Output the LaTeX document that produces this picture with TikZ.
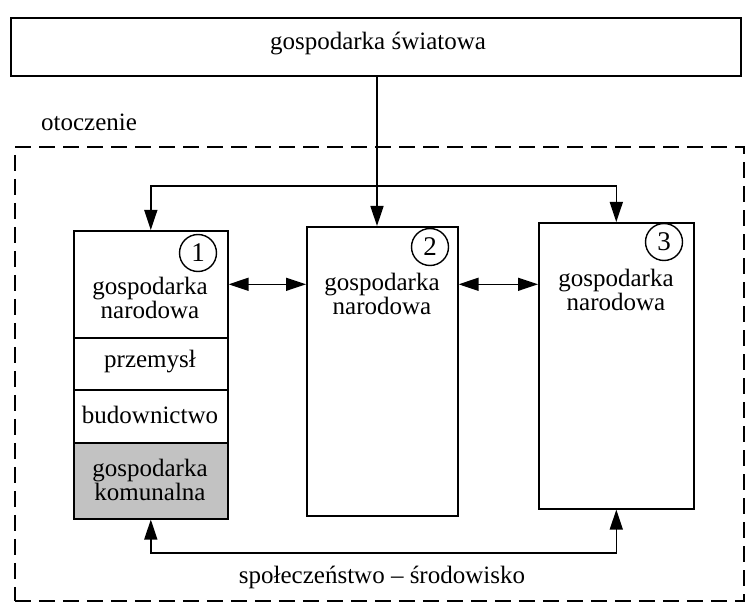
\documentclass[tikz,border=0pt]{standalone}
\usepackage{fontspec}
\setmainfont{Liberation Serif}
\usetikzlibrary{arrows.meta}

\begin{document}
\begin{tikzpicture}[x=1pt,y=-1pt,
  txt/.style={font=\fontsize{25}{24}\selectfont, inner sep=0pt},
  frame/.style={draw, line width=1.6pt, inner sep=0pt},
  cell/.style={frame, minimum width=154pt, anchor=north west},
  num/.style={draw, circle, line width=1.4pt, minimum size=37pt, inner sep=0pt,
    font=\fontsize{27}{27}\selectfont},
  link/.style={line width=1.5pt},
  tip/.style={-{Triangle[length=20pt,width=13pt]}},
  tips/.style={{Triangle[length=20pt,width=13pt]}-{Triangle[length=20pt,width=13pt]}},
  envline/.style={draw, line width=1.7pt, dash pattern=on 16pt off 8pt, inner sep=0pt}]

\useasboundingbox (0,0) rectangle (747,604);

% world economy on top
\node[frame, anchor=north west, minimum width=730pt, minimum height=58pt]
  (world) at (10,17) {};
\node[txt] (worldtxt) at (378,44) {gospodarka światowa};

% surroundings (dashed frame)
\node[envline, anchor=north west, minimum width=729pt, minimum height=454pt]
  (env) at (14,146) {};
\node[txt] (envtxt) at (89,122) {otoczenie};

% national economy 1 with its sectors
\node[cell, minimum height=107pt] (b1) at (73,230) {};
\node[cell, minimum height=52pt] (b1a) at (73,337) {};
\node[cell, minimum height=53pt] (b1b) at (73,389) {};
\node[cell, minimum height=76pt, fill=black!24] (b1c) at (73,442) {};
\node[txt, align=center] (b1t) at (150,298) {gospodarka\\narodowa};
\node[txt] (b1at) at (150,362) {przemysł};
\node[txt] (b1bt) at (150,415) {budownictwo};
\node[txt, align=center] (b1ct) at (150,480) {gospodarka\\komunalna};
\node[num] (n1) at (198,253) {1};

% national economy 2
\node[cell, minimum width=151pt, minimum height=289pt] (b2) at (306,226) {};
\node[txt, align=center] (b2t) at (382,294) {gospodarka\\narodowa};
\node[num] (n2) at (430,247) {2};

% national economy 3
\node[cell, minimum width=155pt, minimum height=286pt] (b3) at (538,222) {};
\node[txt, align=center] (b3t) at (616,290) {gospodarka\\narodowa};
\node[num] (n3) at (664,242) {3};

% connectors
\coordinate (hub) at (377,186);
\coordinate (low) at (382,553);
\draw[link, tip] (world.south -| hub) -- (b2.north -| hub);
\draw[link, tips] (b1.north) |- (hub) -| (b3.north);
\draw[link, tips] (b1.east) -- (b1.east -| b2.west);
\draw[link, tips] (b1.east -| b2.east) -- (b1.east -| b3.west);
\draw[link, tips] (b1c.south) |- (low) -| (b3.south);

\node[txt] (bottomtxt) at (382,577) {społeczeństwo – środowisko};
\end{tikzpicture}
\end{document}
